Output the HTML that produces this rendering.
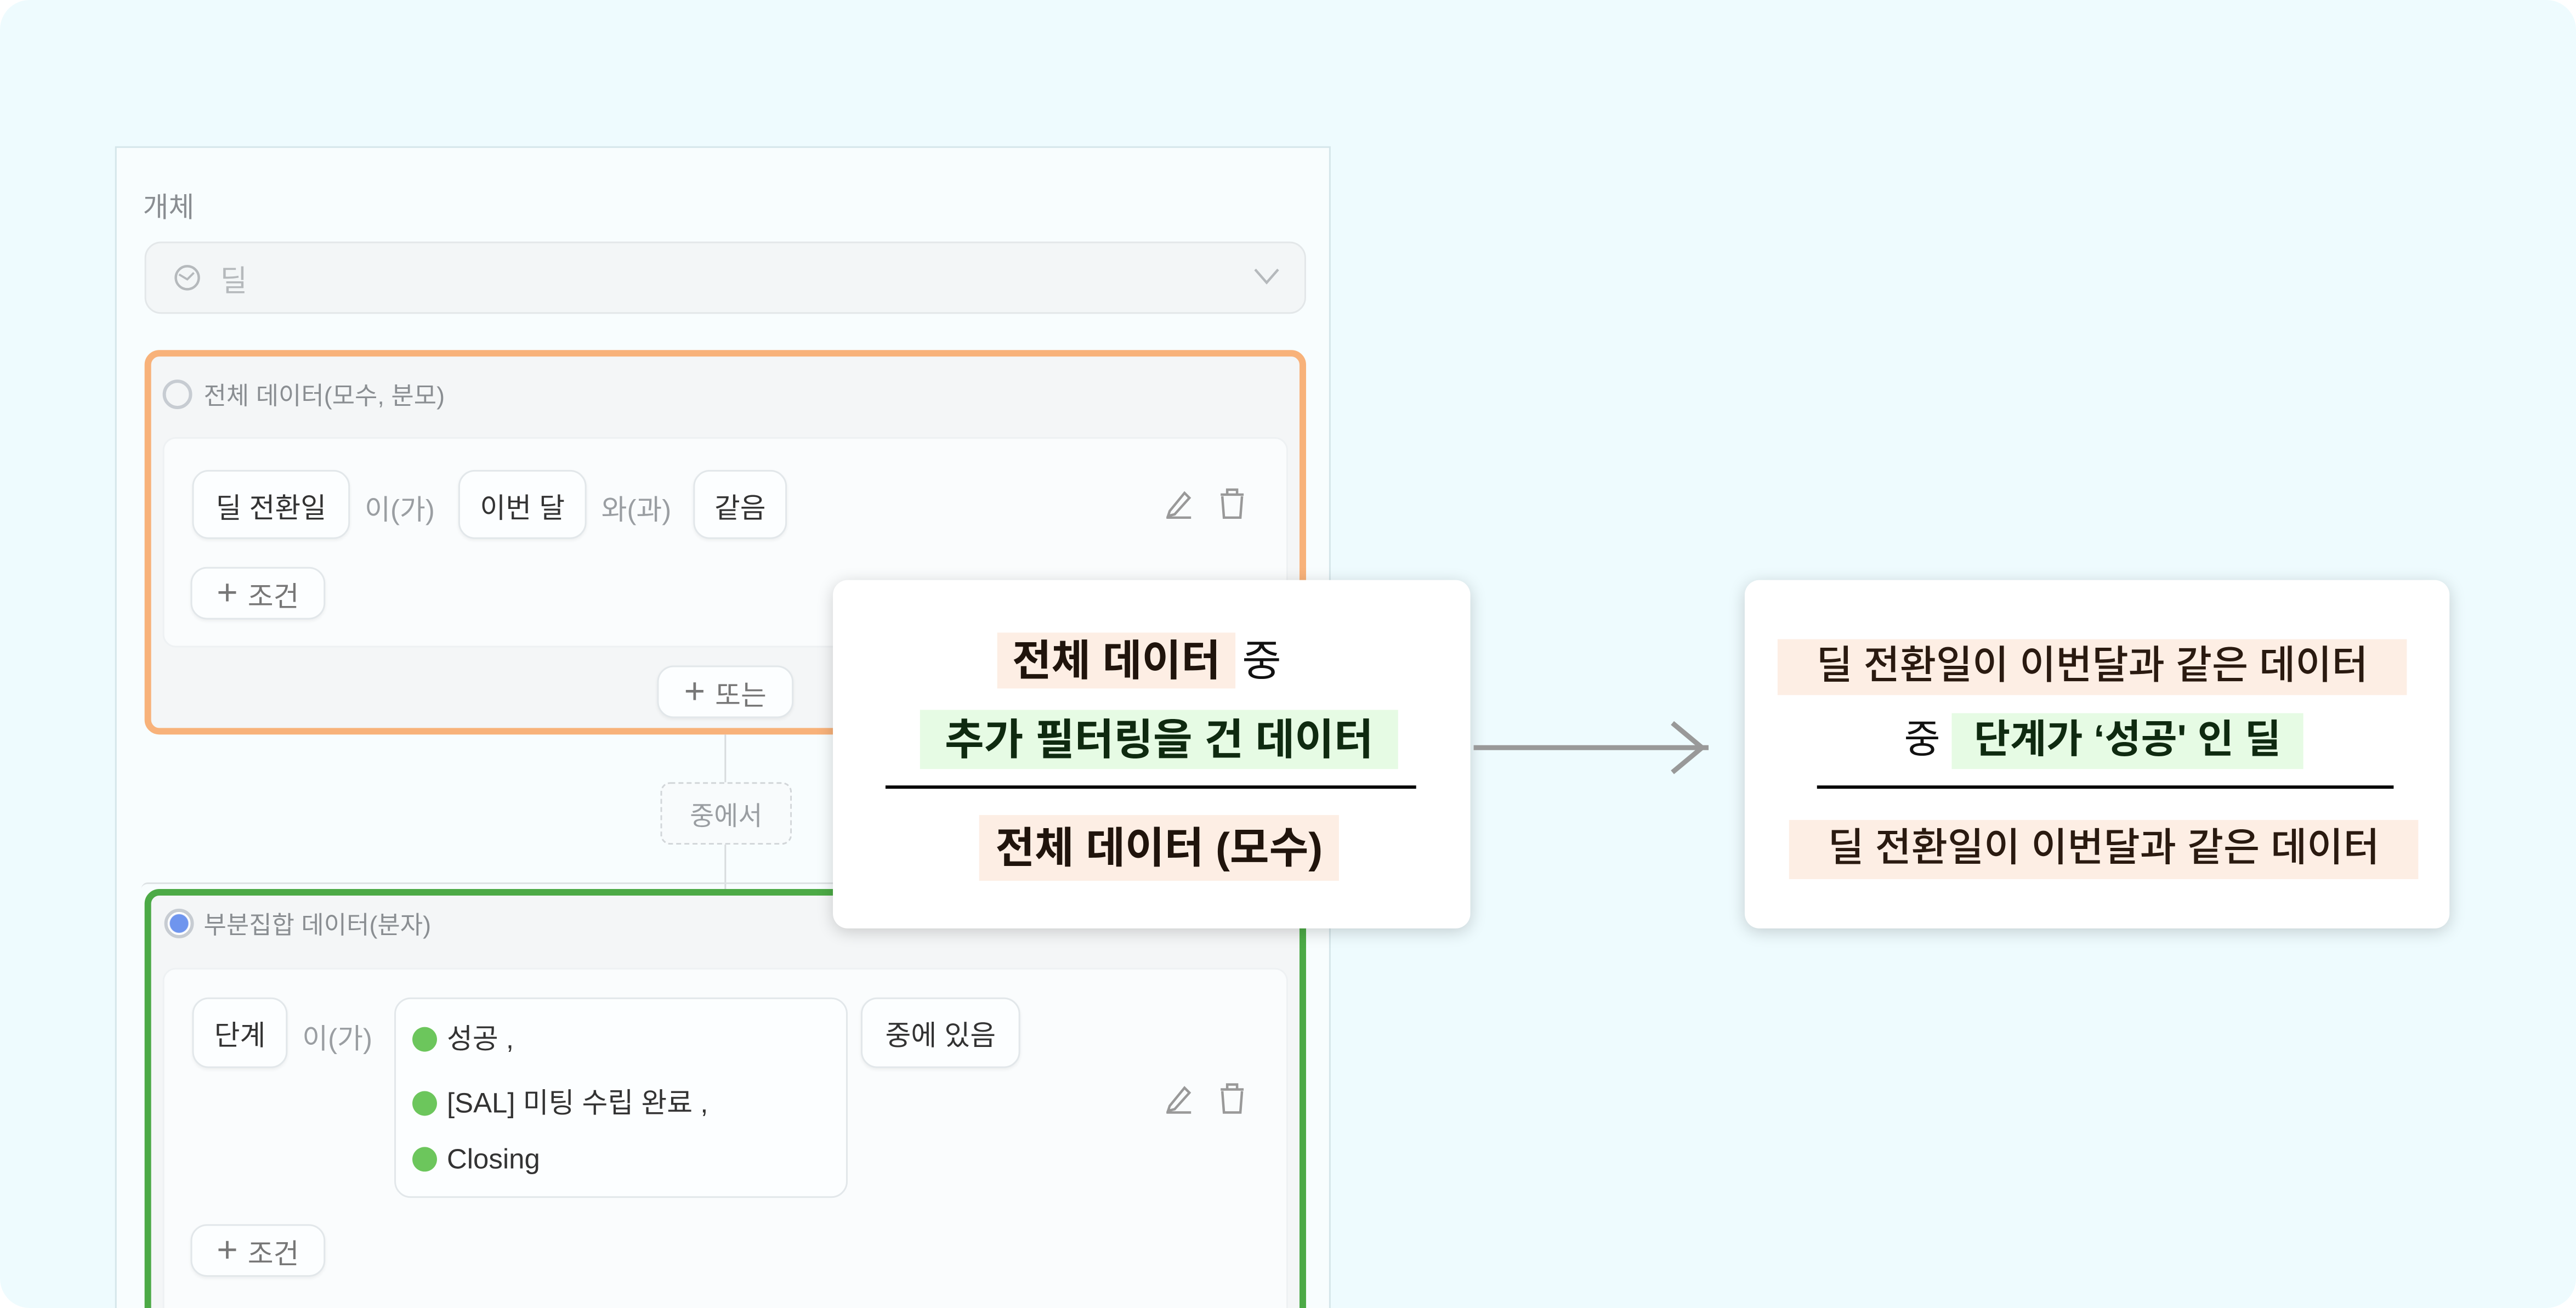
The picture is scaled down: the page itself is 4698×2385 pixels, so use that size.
<!DOCTYPE html>
<html><head><meta charset="utf-8"><style>
html,body{margin:0;padding:0;background:#fff;width:4698px;height:2385px;overflow:hidden}
#s{position:absolute;left:0;top:0;width:1568px;height:796px;transform:scale(2.99617,2.99623);transform-origin:0 0;font-family:"Liberation Sans","Noto Sans CJK KR",sans-serif;overflow:hidden;border-radius:18px;background:#eefbfe}
.a{position:absolute;box-sizing:border-box}
.chip{position:absolute;box-sizing:border-box;background:#fcfeff;border:1px solid #e2e7ea;border-radius:10px;font-size:17px;color:#333;display:flex;align-items:center;justify-content:center;box-shadow:0 1px 2px rgba(0,0,0,.05)}
.t{position:absolute;white-space:nowrap}
.g{color:#9a9ea2;font-size:17px}
.dot{display:inline-block;width:15px;height:15px;border-radius:50%;background:#6cc65c;margin-right:6px;vertical-align:-2px}
.pop{position:absolute;background:#fff;border-radius:9px;box-shadow:0 2px 10px rgba(0,0,0,.18)}
.pk{background:#fdeee4}.gr{background:#e6fbe4}
</style></head><body><div id="s">
<div class="a" style="left:70px;top:89px;width:740px;height:720px;background:#f8fdfe;border:1px solid #d5e6ea"></div>
<div class="t" style="left:87px;top:112px;font-size:17px;color:#8a8e92">개체</div>
<div class="a" style="left:88px;top:147px;width:707px;height:44px;background:#f3f6f7;border:1px solid #e3e7e9;border-radius:10px"></div>
<svg class="a" style="left:104px;top:159px" width="20" height="20"><circle cx="10" cy="10" r="7" fill="none" stroke="#b5b9bc" stroke-width="1.5"/><path d="M5 8 L10 11 L14 7" fill="none" stroke="#b5b9bc" stroke-width="1.3"/></svg>
<div class="t" style="left:134px;top:157px;font-size:18px;color:#b5b9bc">딜</div>
<svg class="a" style="left:762px;top:161px" width="18" height="14"><polyline points="2,3 9,11 16,3" fill="none" stroke="#b5b9bc" stroke-width="1.5"/></svg>

<div class="a" style="left:88px;top:213px;width:707px;height:234px;background:#f4f6f7;border:4px solid #f8b27a;border-radius:9px"></div>
<div class="a" style="left:99px;top:231px;width:18px;height:18px;border:2px solid #c7ccd2;border-radius:50%"></div>
<div class="t" style="left:124px;top:230px;font-size:15px;color:#8a8e92">전체 데이터(모수, 분모)</div>
<div class="a" style="left:99px;top:266px;width:685px;height:128px;background:#fafcfd;border-radius:8px;border:1px solid #eef1f3"></div>
<div class="chip" style="left:117px;top:286px;width:96px;height:42px">딜 전환일</div>
<div class="t g" style="left:222px;top:296px">이(가)</div>
<div class="chip" style="left:279px;top:286px;width:78px;height:42px">이번 달</div>
<div class="t g" style="left:366px;top:296px">와(과)</div>
<div class="chip" style="left:422px;top:286px;width:57px;height:42px">같음</div>
<svg class="a" style="left:707px;top:296px" width="56" height="22"><path d="M3 19 H18 M5 15 L14 4 L17 7 L8 17 L4 18 Z" fill="none" stroke="#999" stroke-width="1.5"/><path d="M36 5 H50 M40 5 V2 H46 V5 M37 6 L38 19 H48 L49 6" fill="none" stroke="#999" stroke-width="1.5"/></svg>
<div class="chip" style="left:116px;top:345px;width:82px;height:32px;color:#777"><span style="font-size:22px;margin-right:6px">+</span>조건</div>
<div class="chip" style="left:400px;top:405px;width:83px;height:32px;color:#777"><span style="font-size:22px;margin-right:6px">+</span>또는</div>

<div class="a" style="left:441px;top:447px;width:1px;height:96px;background:#d8dcde"></div>
<div class="a" style="left:402px;top:476px;width:80px;height:38px;background:#f8fbfc;border:1px dashed #d2d6d9;border-radius:6px;font-size:16px;color:#9a9ea2;display:flex;align-items:center;justify-content:center">중에서</div>

<div class="a" style="left:86px;top:537px;width:711px;height:8px;border-top:1px solid #dde2e4;border-radius:8px"></div>
<div class="a" style="left:88px;top:541px;width:707px;height:280px;background:#f4f6f7;border:4px solid #4caa46;border-radius:9px"></div>
<div class="a" style="left:100px;top:553px;width:18px;height:18px;border:2px solid #c7ccd2;border-radius:50%;background:radial-gradient(circle,#6f95ee 55%,#fff 60%)"></div>
<div class="t" style="left:124px;top:552px;font-size:15px;color:#8a8e92">부분집합 데이터(분자)</div>
<div class="a" style="left:99px;top:589px;width:685px;height:230px;background:#fafcfd;border-radius:8px;border:1px solid #eef1f3"></div>
<div class="chip" style="left:117px;top:607px;width:58px;height:43px">단계</div>
<div class="t g" style="left:184px;top:618px">이(가)</div>
<div class="a" style="left:240px;top:607px;width:276px;height:122px;background:#fcfeff;border:1px solid #e2e7ea;border-radius:10px"></div>
<div class="t" style="left:251px;top:618px;font-size:17px;color:#333"><span class="dot"></span>성공 ,</div>
<div class="t" style="left:251px;top:657px;font-size:17px;color:#333"><span class="dot"></span>[SAL] 미팅 수립 완료 ,</div>
<div class="t" style="left:251px;top:696px;font-size:17px;color:#333"><span class="dot"></span>Closing</div>
<div class="chip" style="left:524px;top:607px;width:97px;height:43px">중에 있음</div>
<svg class="a" style="left:707px;top:658px" width="56" height="22"><path d="M3 19 H18 M5 15 L14 4 L17 7 L8 17 L4 18 Z" fill="none" stroke="#999" stroke-width="1.5"/><path d="M36 5 H50 M40 5 V2 H46 V5 M37 6 L38 19 H48 L49 6" fill="none" stroke="#999" stroke-width="1.5"/></svg>
<div class="chip" style="left:116px;top:745px;width:82px;height:32px;color:#777"><span style="font-size:22px;margin-right:6px">+</span>조건</div>

<div class="pop" style="left:507px;top:353px;width:388px;height:212px"></div>
<div class="t pk" style="left:607px;top:385px;width:145px;height:34px;font-size:26px;font-weight:bold;color:#20140c;text-align:center;line-height:34px">전체 데이터</div>
<div class="t" style="left:756px;top:385px;font-size:26px;color:#111;line-height:34px">중</div>
<div class="t gr" style="left:560px;top:432px;width:291px;height:36px;font-size:26px;font-weight:bold;color:#0f2a10;text-align:center;line-height:36px">추가 필터링을 건 데이터</div>
<div class="a" style="left:539px;top:478px;width:323px;height:2px;background:#000"></div>
<div class="t pk" style="left:596px;top:496px;width:219px;height:40px;font-size:26px;font-weight:bold;color:#20140c;text-align:center;line-height:40px">전체 데이터 (모수)</div>

<svg class="a" style="left:895px;top:435px" width="150" height="40"><line x1="2" y1="20" x2="145" y2="20" stroke="#999" stroke-width="3"/><polyline points="123,5 141,20 123,35" fill="none" stroke="#999" stroke-width="3"/></svg>

<div class="pop" style="left:1062px;top:353px;width:429px;height:212px"></div>
<div class="t pk" style="left:1082px;top:389px;width:383px;height:34px;font-size:24px;font-weight:500;color:#2a1a10;text-align:center;line-height:34px">딜 전환일이 이번달과 같은 데이터</div>
<div class="t" style="left:1159px;top:434px;font-size:24px;color:#111;line-height:34px">중</div>
<div class="t gr" style="left:1188px;top:434px;width:214px;height:34px;font-size:24px;font-weight:bold;color:#0f2a10;text-align:center;line-height:34px">단계가 ‘성공' 인 딜</div>
<div class="a" style="left:1106px;top:478px;width:351px;height:2px;background:#000"></div>
<div class="t pk" style="left:1089px;top:499px;width:383px;height:36px;font-size:24px;font-weight:500;color:#2a1a10;text-align:center;line-height:36px">딜 전환일이 이번달과 같은 데이터</div>
</div></body></html>
